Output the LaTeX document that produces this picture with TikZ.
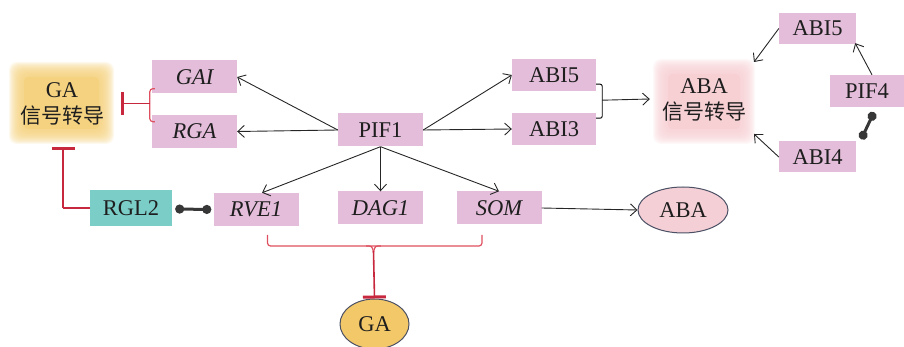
\documentclass[tikz,border=0pt]{standalone}
\usepackage{fontspec}
\setmainfont{Liberation Serif}
\newfontfamily\cjk{Noto Sans CJK SC}
\usetikzlibrary{arrows.meta,shapes.geometric,calc}
\definecolor{genepink}{RGB}{227,189,217}
\definecolor{tealbox}{RGB}{123,205,200}
\definecolor{gaorange}{RGB}{245,210,128}
\definecolor{abaglow}{RGB}{247,208,212}
\definecolor{inhred}{RGB}{200,40,62}
\definecolor{brred}{RGB}{222,80,95}
\definecolor{ellgold}{RGB}{242,200,105}
\definecolor{ellpink}{RGB}{244,207,214}
\definecolor{ellline}{RGB}{75,80,100}
\definecolor{dumb}{RGB}{55,55,55}
\definecolor{txt}{RGB}{30,30,30}
\tikzset{
  gene/.style={fill=genepink, text=txt, minimum width=85pt, minimum height=33pt, inner sep=0pt, font=\fontsize{22.5}{26}\selectfont},
  itgene/.style={gene, font=\fontsize{22.5}{26}\selectfont\itshape},
  smallgene/.style={gene, minimum width=77pt, minimum height=31pt},
  act/.style={-{Straight Barb[length=6.5pt,width=12pt]}, line width=0.9pt, draw=black!85},
  inh/.style={draw=inhred, line width=1.6pt, -{Bar[width=23pt,line width=3pt]}},
  brace/.style={draw=brred, line width=1.2pt, rounded corners=3pt},
  dumbbell/.style={draw=dumb, line width=3pt, {Circle[length=9pt]}-{Circle[length=9pt]}},
  hormone/.style={ellipse, draw=ellline, text=txt, line width=1pt, inner sep=0pt, font=\fontsize{22.5}{26}\selectfont},
  glowtext/.style={align=center, text=txt, inner sep=0pt, font=\fontsize{22.5}{26}\selectfont}
}
\begin{document}
\begin{tikzpicture}[x=1pt,y=-1pt]
\useasboundingbox (0,0) rectangle (904,347);
% glows
\foreach \i in {0,...,15}{
  \fill[gaorange, opacity=0.14, rounded corners=8pt] (24-\i,77-\i) rectangle (99+\i,129+\i);
  \fill[abaglow, opacity=0.14, rounded corners=8pt] (668-\i,74-\i) rectangle (740+\i,129+\i);
}
\fill[gaorange, rounded corners=4pt] (24,77) rectangle (99,129);
\fill[abaglow, rounded corners=4pt] (668,74) rectangle (740,129);
\node[glowtext] (gasig) at (62,104) {GA\\{\cjk\fontsize{21}{26}\selectfont 信号转导}};
\node[glowtext] (abasig) at (704,100) {ABA\\{\cjk\fontsize{21}{26}\selectfont 信号转导}};

% gene boxes
\node[itgene] (gai) at (194.5,77) {GAI};
\node[itgene] (rga) at (194.5,131.5) {RGA};
\node[gene] (pif1) at (380.5,130) {PIF1};
\node[gene, fill=tealbox, minimum width=82pt, minimum height=36pt] (rgl2) at (131,208) {RGL2};
\node[itgene] (rve1) at (256,209.5) {RVE1};
\node[itgene] (dag1) at (380.5,208) {DAG1};
\node[itgene] (som) at (499,208) {SOM};
\node[gene, minimum width=84pt, minimum height=32pt] (abi5) at (554,75) {ABI5};
\node[gene, minimum width=84pt, minimum height=32pt] (abi3) at (554,129) {ABI3};
\node[smallgene] (abi5b) at (817.5,28.5) {ABI5};
\node[gene, minimum width=74pt, minimum height=32pt] (pif4) at (867,91) {PIF4};
\node[smallgene] (abi4) at (817.5,157) {ABI4};
\node[hormone, fill=ellpink, minimum width=90pt, minimum height=46pt] (abah) at (683,210) {ABA};
\node[hormone, fill=ellgold, minimum width=69pt, minimum height=50pt] (gah) at (374.5,324) {GA};

% PIF1 activations
\draw[act] (pif1.west) -- (gai.east);
\draw[act] (pif1.west) -- (rga.east);
\draw[act] (pif1.south) -- ($(rve1.north)+(6,0)$);
\draw[act] (pif1.south) -- (dag1.north);
\draw[act] (pif1.south) -- (som.north);
\draw[act] (pif1.east) -- (abi5.west);
\draw[act] (pif1.east) -- (abi3.west);
\draw[act] (som.east) -- (abah.west);

% ABI5/ABI3 bracket to ABA signalling
\coordinate (brt) at ($(abi5.south east)+(0,-7)$);
\draw[line width=0.9pt, rounded corners=2pt] (brt) -- ++(6,0) -- ++(0,34) -- ++(-6,0);
\coordinate (brm) at ($(brt)+(6,16)$);
\draw[act] (brm) -- ($(abasig.west)+(-12,-1)$);

% right cluster
\draw[act] (abi5b.west) -- (754,62);
\draw[act] (abi4.west) -- (754,134);
\draw[act] ($(pif4.north)+(5,0)$) -- ($(abi5b.south east)+(-1,-1)$);
\draw[dumbbell] ($(pif4.south)+(7,5)$) -- ($(abi4.north east)+(5,-2)$);

% dumbbell RGL2 - RVE1
\draw[dumbbell] ($(rgl2.east)+(3,1)$) -- ($(rve1.west)+(-2,0)$);

% red inhibition: GAI/RGA bracket -> GA signalling
\draw[brace] ($(gai.south west)+(3,-5)$) -- ++(-5,0) -- ++(0,33) -- ++(5,0);
\coordinate (lbr) at (150,103.5);
\draw[inh] (lbr) -- (121,103.5);

% RGL2 -> GA signalling
\coordinate (rglcorner) at (63,208);
\draw[draw=inhred, line width=1.6pt] (rgl2.west) -- (rglcorner);
\draw[inh] (rglcorner) -- (63,147);

% bottom bracket
\coordinate (bl) at (267.5,235);
\coordinate (br) at (482,235);
\draw[brace] (bl) -- (267.5,246) -- (482,246) -- (br);
\draw[draw=brred, line width=1.2pt] (366,246) .. controls (372,246) .. (373.5,252);
\draw[draw=brred, line width=1.2pt] (381,246) .. controls (375,246) .. (373.5,252);
\draw[inh] (373.5,251) -- (gah.north);
\end{tikzpicture}
\end{document}
